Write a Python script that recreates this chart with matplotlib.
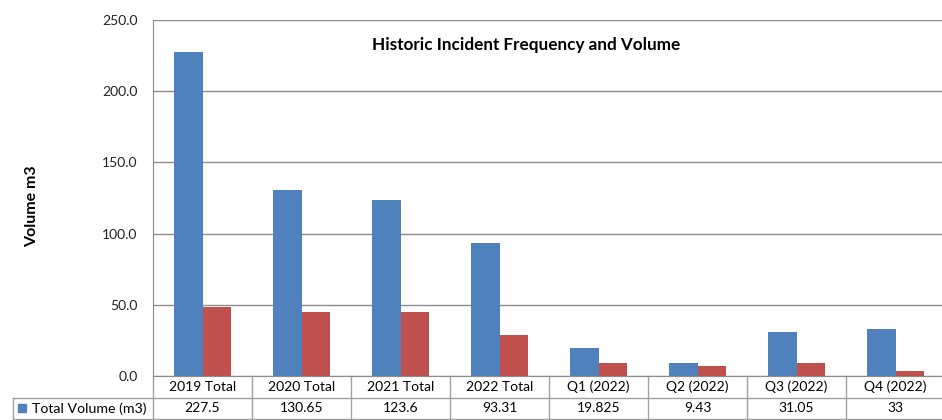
import matplotlib
matplotlib.use("Agg")
import matplotlib.pyplot as plt
import numpy as np
from matplotlib.transforms import blended_transform_factory
from matplotlib.lines import Line2D
from matplotlib.patches import Rectangle

plt.rcParams['font.family'] = ['Lato', 'DejaVu Sans']

categories = ["2019 Total", "2020 Total", "2021 Total", "2022 Total",
              "Q1 (2022)", "Q2 (2022)", "Q3 (2022)", "Q4 (2022)"]
volume = [227.5, 130.65, 123.6, 93.31, 19.825, 9.43, 31.05, 33]
volume_labels = ["227.5", "130.65", "123.6", "93.31", "19.825", "9.43", "31.05", "33"]
frequency = [48.5, 44.7, 44.7, 28.8, 8.9, 7.0, 9.0, 3.7]
yticks = [0, 50, 100, 150, 200, 250]

BLUE = "#4F81BD"
RED = "#C0504D"
GRID = "#8c8c8c"
TBL = "#a0a0a0"

W, H = 942, 420
fig = plt.figure(figsize=(W / 100, H / 100), dpi=100)
left, right, top, bottom = 153, 945, 20, 376
ax = fig.add_axes([left / W, 1 - bottom / H, (right - left) / W, (bottom - top) / H])

n = len(categories)
x = np.arange(n)
bw = 0.29
ax.bar(x - bw / 2, volume, bw, color=BLUE, zorder=3)
ax.bar(x + bw / 2, frequency, bw, color=RED, zorder=3)

ax.set_xlim(-0.5, n - 0.5)
ax.set_ylim(0, 250)
ax.set_yticks(yticks)
ax.set_yticklabels([f"{v:.1f}" for v in yticks], fontsize=10, color="#222222")
ax.tick_params(axis='y', length=0, pad=11)
ax.set_xticks([])
ax.yaxis.grid(True, color=GRID, linewidth=1.0, zorder=0)
for s in ["top", "right"]:
    ax.spines[s].set_visible(False)
ax.spines["left"].set_color(GRID)
ax.spines["bottom"].set_color(GRID)

ax.set_ylabel("Volume m3", fontsize=11.5, fontweight="bold")
ax.yaxis.set_label_coords(-(153 - 39) / (right - left), (376 - 206) / (bottom - top))

fig.text(526 / W, 1 - 45 / H, "Historic Incident Frequency and Volume",
         fontsize=12.3, fontweight="bold", ha="center", va="center")

# data table under the plot
tr = blended_transform_factory(ax.transData, ax.transAxes)
ph = bottom - top
y0 = 0
y1 = -(398 - bottom) / ph
y2 = -(419 - bottom) / ph
for i, c in enumerate(categories):
    ax.text(i, (y0 + y1) / 2, c, transform=tr, ha="center", va="center",
            fontsize=10, clip_on=False)
    ax.text(i, (y1 + y2) / 2, volume_labels[i], transform=tr, ha="center",
            va="center", fontsize=10, clip_on=False)
for b in np.arange(-0.5, n, 1.0):
    ax.add_line(Line2D([b, b], [y0, y2], transform=tr, color=TBL,
                       linewidth=1, clip_on=False))
# horizontal table lines
ftr = fig.transFigure
for yy in [398, 419]:
    fig.add_artist(Line2D([13 / W, 1.0], [1 - yy / H, 1 - yy / H],
                          transform=ftr, color=TBL, linewidth=1))
fig.add_artist(Line2D([13 / W, 13 / W], [1 - 398 / H, 1 - 419 / H],
                      transform=ftr, color=TBL, linewidth=1))
# legend key in row label
fig.add_artist(Rectangle((18 / W, 1 - 412 / H), 8 / W, 8 / H,
                         transform=ftr, color=BLUE))
fig.text(32 / W, 1 - 408.5 / H, "Total Volume (m3)", fontsize=10.2,
         ha="left", va="center")

fig.savefig("out.png", dpi=100)
